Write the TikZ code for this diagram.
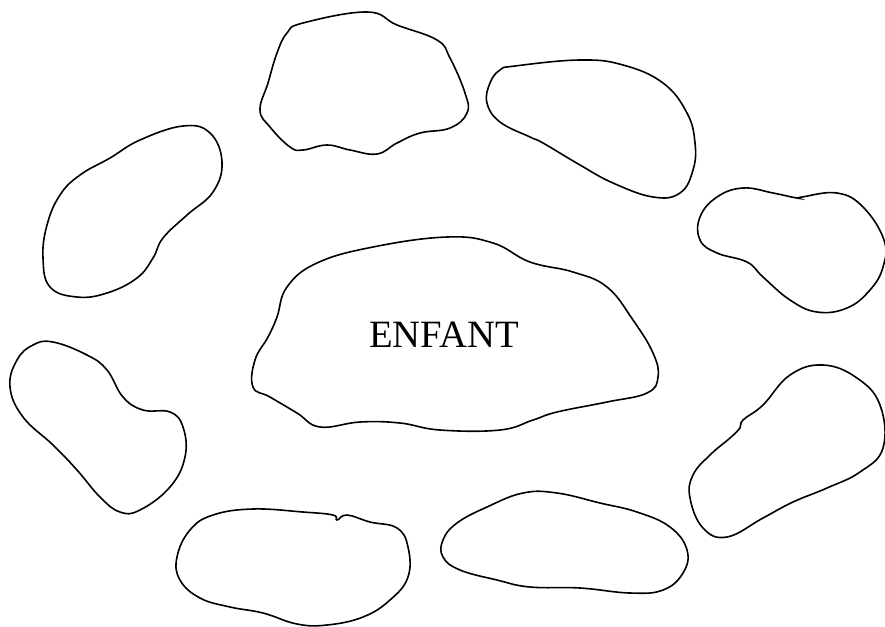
\documentclass[tikz,border=0pt]{standalone}
\usepackage{fontspec}
\setmainfont{Liberation Serif}
\begin{document}
\begin{tikzpicture}[x=0.75pt,y=-0.75pt,
  blob/.style={draw=black,line width=1.2pt},
  bl/.style={smooth cycle,tension=0.7}]
\useasboundingbox (0,0) rectangle (885,626);
% top
\draw[blob] plot[bl] coordinates {(303,23) (367,12) (397,25) (437,40) (450,58) (465,93) (467,113) (450,128) (420,133) (397,143) (377,154) (350,150) (327,145) (303,150) (290,147) (270,127) (260,110) (268,83) (277,53) (287,33)};
% top right
\draw[blob] plot[bl] coordinates {(515,66) (580,60) (623,65) (663,83) (687,113) (695,143) (693,170) (680,193) (653,197) (613,183) (580,165) (543,143) (530,137) (500,122) (487,103) (490,83) (500,70)};
% left
\draw[blob] plot[bl] coordinates {(110,158) (140,140) (183,126) (210,133) (222,162) (213,192) (187,215) (163,238) (153,258) (137,278) (107,293) (77,297) (50,287) (43,258) (47,225) (60,195) (80,175)};
% right middle
\draw[blob] plot[bl] coordinates {(802,197) (837,193) (863,207) (884,240) (883,267) (870,290) (847,308) (817,312) (790,300) (763,277) (747,262) (717,253) (700,240) (700,217) (717,197) (743,188) (773,193) (797,198)};
% center
\draw[blob] plot[bl] coordinates {(317,263) (373,247) (447,237) (493,243) (530,262) (573,272) (607,287) (633,320) (653,353) (658,377) (647,393) (607,402) (557,412) (533,420) (500,430) (440,430) (400,423) (360,422) (320,427) (297,413) (270,397) (253,387) (255,360) (268,337) (277,317) (287,287)};
\node[font=\fontsize{29}{32}\selectfont] (enfant) at (444,335) {ENFANT};
% left bottom
\draw[blob] plot[bl] coordinates {(53,342) (87,355) (107,370) (123,397) (143,410) (170,412) (183,427) (185,457) (170,487) (140,510) (120,512) (100,497) (77,470) (53,445) (23,417) (10,387) (17,360) (33,345)};
% right bottom
\draw[blob] plot[bl] coordinates {(823,365) (857,378) (880,405) (883,448) (860,472) (827,488) (793,502) (763,518) (727,537) (703,528) (690,498) (693,475) (710,455) (730,438) (740,428) (743,420) (763,405) (790,375)};
% bottom left
\draw[blob] plot[bl] coordinates {(337,520) (347,515) (370,522) (397,528) (408,547) (408,577) (390,600) (363,617) (327,625) (297,624) (263,613) (230,607) (200,598) (180,580) (177,557) (190,530) (213,515) (253,509) (303,512) (333,515)};
% bottom middle
\draw[blob] plot[bl] coordinates {(523,493) (557,493) (600,503) (637,512) (670,527) (687,550) (683,573) (663,590) (630,593) (580,588) (530,587) (497,580) (460,570) (443,557) (443,540) (457,523) (487,507)};
\end{tikzpicture}
\end{document}
